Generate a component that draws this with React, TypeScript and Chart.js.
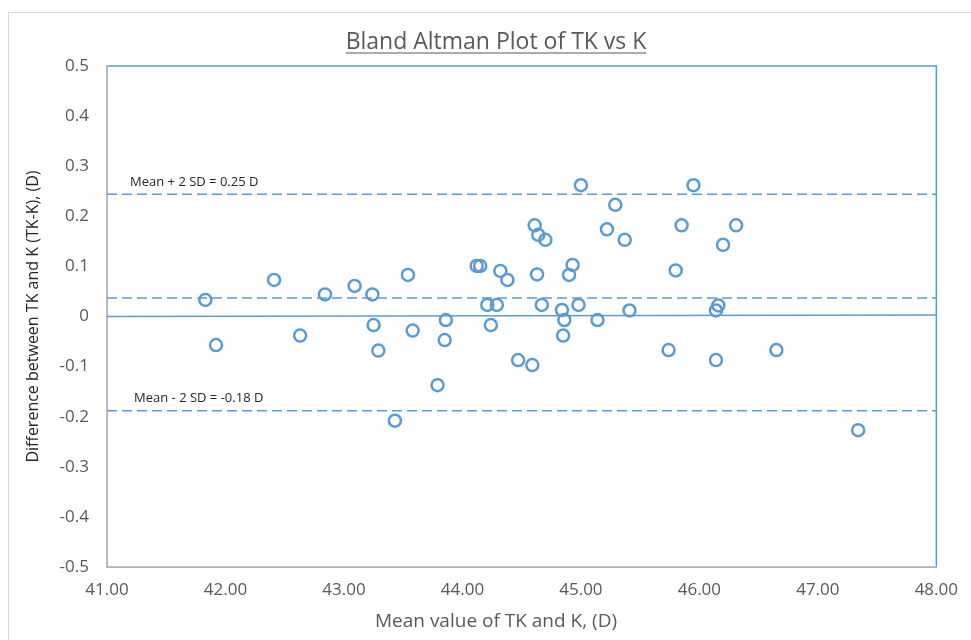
import React, { useEffect, useRef } from "react";
import { Chart, registerables } from "chart.js";

Chart.register(...registerables);

// ---- data ----
const meanValues = [
  41.83, 41.92, 42.41, 42.63, 42.84, 43.09, 43.24, 43.25, 43.29, 43.54,
  43.58, 43.43, 43.79, 43.86, 43.85, 44.12, 44.15, 44.21, 44.29, 44.24,
  44.32, 44.38, 44.63, 44.93, 44.9, 44.67, 44.84, 44.86, 44.85, 44.98,
  45.14, 45.41, 44.47, 44.59, 45.0, 45.95, 45.29, 44.61, 44.64, 44.7,
  45.22, 45.37, 45.85, 46.31, 46.2, 45.8, 45.74, 46.14, 46.65, 46.16,
  46.14, 47.34,
];
const differences = [
  0.033, -0.057, 0.073, -0.038, 0.044, 0.061, 0.044, -0.017, -0.068, 0.083,
  -0.028, -0.208, -0.137, -0.007, -0.047, 0.101, 0.101, 0.023, 0.023, -0.017,
  0.091, 0.073, 0.084, 0.103, 0.083, 0.023, 0.013, -0.007, -0.038, 0.023,
  -0.007, 0.012, -0.087, -0.097, 0.262, 0.262, 0.223, 0.182, 0.163, 0.153,
  0.174, 0.153, 0.182, 0.182, 0.143, 0.092, -0.067, -0.087, -0.067, 0.022,
  0.012, -0.227,
];
const xRange = [41, 48];
const yRange = [-0.5, 0.5];
const upperLimit = 0.244;
const meanDifference = 0.037;
const lowerLimit = -0.188;
const zeroLineY = [0.0, 0.003];
const titleText = "Bland Altman Plot of TK vs K";
const xTitleText = "Mean value of TK and K, (D)";
const yTitleText = "Difference between TK and K (TK-K), (D)";
const upperLabel = "Mean + 2 SD = 0.25 D";
const lowerLabel = "Mean - 2 SD = -0.18 D";

const BLUE = "#5B9BD5";
const TEXT = "#595959";
const WIDE = '"Open Sans", sans-serif';

const decorPlugin = {
  id: "decor",
  beforeDraw(chart: any) {
    const { ctx, chartArea } = chart;
    ctx.save();
    ctx.fillStyle = "#ffffff";
    ctx.fillRect(0, 0, chart.width, chart.height);
    ctx.strokeStyle = "#D9D9D9";
    ctx.lineWidth = 1;
    ctx.strokeRect(8.5, 12.5, 1000, 700);
    ctx.strokeStyle = BLUE;
    ctx.lineWidth = 1.5;
    ctx.strokeRect(chartArea.left, chartArea.top, chartArea.right - chartArea.left, chartArea.bottom - chartArea.top);
    ctx.restore();
  },
  afterDraw(chart: any) {
    const { ctx, scales } = chart;
    const ys = scales.y;
    ctx.save();
    // main title (underlined)
    ctx.fillStyle = TEXT;
    ctx.font = `23px ${WIDE}`;
    ctx.textAlign = "center";
    ctx.textBaseline = "alphabetic";
    const cx = 496;
    ctx.fillText(titleText, cx, 49);
    const tw = ctx.measureText(titleText).width;
    ctx.strokeStyle = TEXT;
    ctx.lineWidth = 1.2;
    ctx.beginPath();
    ctx.moveTo(cx - tw / 2, 53);
    ctx.lineTo(cx + tw / 2, 53);
    ctx.stroke();
    // x axis title
    ctx.textBaseline = "middle";
    ctx.font = `19px ${WIDE}`;
    ctx.fillText(xTitleText, cx, 622);
    // annotations
    ctx.font = `13px ${WIDE}`;
    ctx.fillStyle = "#262626";
    ctx.textAlign = "left";
    ctx.fillText(upperLabel, 130, ys.getPixelForValue(upperLimit) - 12);
    ctx.fillText(lowerLabel, 134, ys.getPixelForValue(lowerLimit) - 12);
    ctx.restore();
  },
};

export default function App() {
  const ref = useRef<HTMLCanvasElement | null>(null);
  useEffect(() => {
    if (!ref.current) return;
    const points = meanValues.map((x, i) => ({ x, y: differences[i] }));
    const hLine = (y0: number, y1: number) => [
      { x: xRange[0], y: y0 },
      { x: xRange[1], y: y1 },
    ];
    const lineBase = {
      type: "line" as const,
      borderColor: BLUE,
      borderWidth: 1.5,
      pointRadius: 0,
      fill: false,
      showLine: true,
    };
    const chart = new Chart(ref.current, {
      type: "scatter",
      data: {
        datasets: [
          {
            data: points,
            pointStyle: "circle",
            pointRadius: 6,
            pointBorderWidth: 2.5,
            borderColor: BLUE,
            backgroundColor: "rgba(255,255,255,0)",
          } as any,
          { ...lineBase, data: hLine(upperLimit, upperLimit), borderDash: [10, 5] } as any,
          { ...lineBase, data: hLine(meanDifference, meanDifference), borderDash: [10, 5] } as any,
          { ...lineBase, data: hLine(lowerLimit, lowerLimit), borderDash: [10, 5] } as any,
          { ...lineBase, data: hLine(zeroLineY[0], zeroLineY[1]) } as any,
        ],
      },
      options: {
        animation: false,
        responsive: false,
        maintainAspectRatio: false,
        layout: { padding: { left: 0, top: 66, right: 30, bottom: 0 } },
        plugins: {
          legend: { display: false },
          tooltip: { enabled: false },
          title: { display: false },
        },
        scales: {
          x: {
            type: "linear",
            min: xRange[0],
            max: xRange[1],
            afterFit: (s: any) => {
              s.height = 73;
            },
            grid: { display: false, drawTicks: false },
            border: { display: true, color: "#BFBFBF", width: 1.5 },
            ticks: {
              stepSize: 1,
              padding: 13,
              color: TEXT,
              font: { family: WIDE, size: 17 },
              callback: (v: any) => Number(v).toFixed(2),
            },
          },
          y: {
            type: "linear",
            min: yRange[0],
            max: yRange[1],
            afterFit: (s: any) => {
              s.width = 107;
            },
            grid: { display: false, drawTicks: false },
            border: { display: true, color: "#BFBFBF", width: 1.5 },
            ticks: {
              stepSize: 0.1,
              padding: 18,
              color: TEXT,
              font: { family: WIDE, size: 17 },
              callback: (v: any) => {
                const n = Math.round(Number(v) * 10) / 10;
                return n === 0 ? "0" : String(n);
              },
            },
            title: {
              display: true,
              text: yTitleText,
              color: "#262626",
              font: { family: WIDE, size: 16 },
              padding: { top: 24, bottom: 0 },
            },
          },
        },
      } as any,
      plugins: [decorPlugin],
    });
    return () => chart.destroy();
  }, []);
  return (
    <div style={{ position: "fixed", left: 0, top: 0, width: 971, height: 640 }}>
      <canvas ref={ref} width={971} height={640} style={{ width: 971, height: 640, display: "block" }} />
    </div>
  );
}
